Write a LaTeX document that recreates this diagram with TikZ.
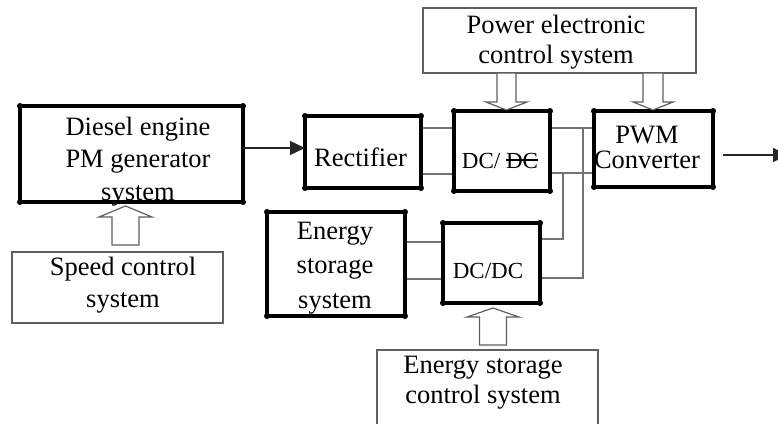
\documentclass[tikz,border=0pt]{standalone}
\usepackage{fontspec}
\setmainfont{Liberation Serif}
\usetikzlibrary{arrows.meta,calc}
\definecolor{linegray}{RGB}{115,115,115}
\definecolor{boxgray}{RGB}{95,95,95}
\newcommand\strikeDC[1]{\begingroup\setbox0\hbox{#1}\rlap{\raisebox{0.33em}{\rule{\wd0}{1.3pt}}}\box0\endgroup}
\begin{document}
\begin{tikzpicture}[x=1pt,y=-1pt,
  thickbox/.style={draw=black,line width=4pt,inner sep=0pt,outer sep=0pt},
  thinbox/.style={draw=boxgray,line width=1.2pt,inner sep=0pt,outer sep=0pt},
  txt/.style={font=\fontsize{26.5}{32.5}\selectfont,align=center,inner sep=0pt},
  smalltxt/.style={font=\fontsize{23}{28}\selectfont,inner sep=0pt},
  conn/.style={draw=linegray,line width=1.3pt,shorten <=2pt,shorten >=2pt},
  arr/.style={draw=black!85,line width=1.3pt,-{Triangle[length=15pt,width=14pt]}},
  hollow/.style={draw=boxgray,line width=1.2pt,fill=white,line join=miter},
  pics/harrow/.style n args={4}{code={\path[hollow] (0,0) -- (-#1/2,#3) -- (-#2/2,#3) -- (-#2/2,#4) -- (#2/2,#4) -- (#2/2,#3) -- (#1/2,#3) -- cycle;}}
]
\fill[white] (0,0) rectangle (778,423);
\useasboundingbox (0,0) rectangle (778,423);

% thick boxes
\node[thickbox,minimum width=223pt,minimum height=96pt] (dg) at (131.5,154) {};
\node[thickbox,minimum width=116pt,minimum height=72pt] (rect) at (363,152) {};
\node[thickbox,minimum width=96pt,minimum height=80pt] (dc1) at (502,151) {};
\node[thickbox,minimum width=119pt,minimum height=76pt] (pwm) at (653.5,149) {};
\node[thickbox,minimum width=138pt,minimum height=104pt] (es) at (336,264) {};
\node[thickbox,minimum width=97pt,minimum height=80pt] (dc2) at (491.5,263) {};

% thin boxes
\node[thinbox,minimum width=211pt,minimum height=71pt] (spd) at (117.5,287.5) {};
\node[thinbox,minimum width=273pt,minimum height=65pt] (pec) at (559.5,40.5) {};
\node[thinbox,minimum width=221pt,minimum height=90pt] (esc) at (487.5,395) {};

% corner dots
\foreach \n in {dg,rect,dc1,pwm,es,dc2}
  \foreach \a in {north east,north west,south east,south west}
    \fill (\n.\a) circle (3pt);

% connectors
\coordinate (a0) at ([yshift=6pt]dg.east);
\draw[arr] (a0) -- (a0 -| rect.west);
\coordinate (a1) at ([yshift=24pt]rect.east);
\coordinate (a2) at ([yshift=-22pt]rect.east);
\draw[conn] (a1) -- (a1 -| dc1.west);
\draw[conn] (a2) -- (a2 -| dc1.west);
\coordinate (b1) at ([yshift=23pt]dc1.east);
\coordinate (b2) at ([yshift=-22pt]dc1.east);
\draw[conn] (b1) -- (b1 -| pwm.west);
\draw[conn] (b2) -- (b2 -| pwm.west);
\coordinate (v1) at ($(b1 -| pwm.west)+(-11,0)$);
\coordinate (v2) at ($(b2 -| pwm.west)+(-31,0)$);
\coordinate (d1) at ([yshift=-15pt]dc2.east);
\coordinate (d2) at ([yshift=24pt]dc2.east);
\draw[conn,shorten <=0pt] (v1) |- (d1);
\draw[conn,shorten <=0pt] (v2) |- (d2);
\coordinate (e1) at ([yshift=22pt]es.east);
\coordinate (e2) at ([yshift=-15pt]es.east);
\draw[conn] (e1) -- (e1 -| dc2.west);
\draw[conn] (e2) -- (e2 -| dc2.west);
\coordinate (o0) at ([xshift=10pt,yshift=-6pt]pwm.east);
\coordinate (out) at (788,155);
\draw[arr] (o0) -- (out);

% hollow arrows
\pic at (125.5,206) {harrow={53}{27}{11}{39}};
\pic at (493,308) {harrow={52}{27}{9}{37}};
\pic[rotate=180] at (506.5,110) {harrow={41}{19}{8}{37}};
\pic[rotate=180] at (653,110) {harrow={40}{20}{8}{37}};

% texts
\node[txt] (dgt) at (138,161.4) {Diesel engine\\PM generator\\system};
\node[txt,anchor=base] (rectt) at (360.5,166.7) {Rectifier};
\node[smalltxt,anchor=base] (dc1t) at (500,168.3) {DC/ \strikeDC{DC}};
\node[txt,font=\fontsize{26.5}{25.5}\selectfont] (pwmt) at (647,147.5) {PWM\\Converter};
\node[txt,font=\fontsize{26.5}{34.5}\selectfont] (est) at (335,268) {Energy\\storage\\system};
\node[smalltxt,anchor=base] (dc2t) at (488,278.3) {DC/DC};
\node[txt,font=\fontsize{26.5}{32}\selectfont] (spdt) at (123,284.9) {Speed control\\system};
\node[txt,font=\fontsize{26.5}{30}\selectfont] (pect) at (556,42.2) {Power electronic\\control system};
\node[txt,font=\fontsize{26.5}{30.7}\selectfont] (esct) at (483,382.8) {Energy storage\\control system};
\end{tikzpicture}
\end{document}
